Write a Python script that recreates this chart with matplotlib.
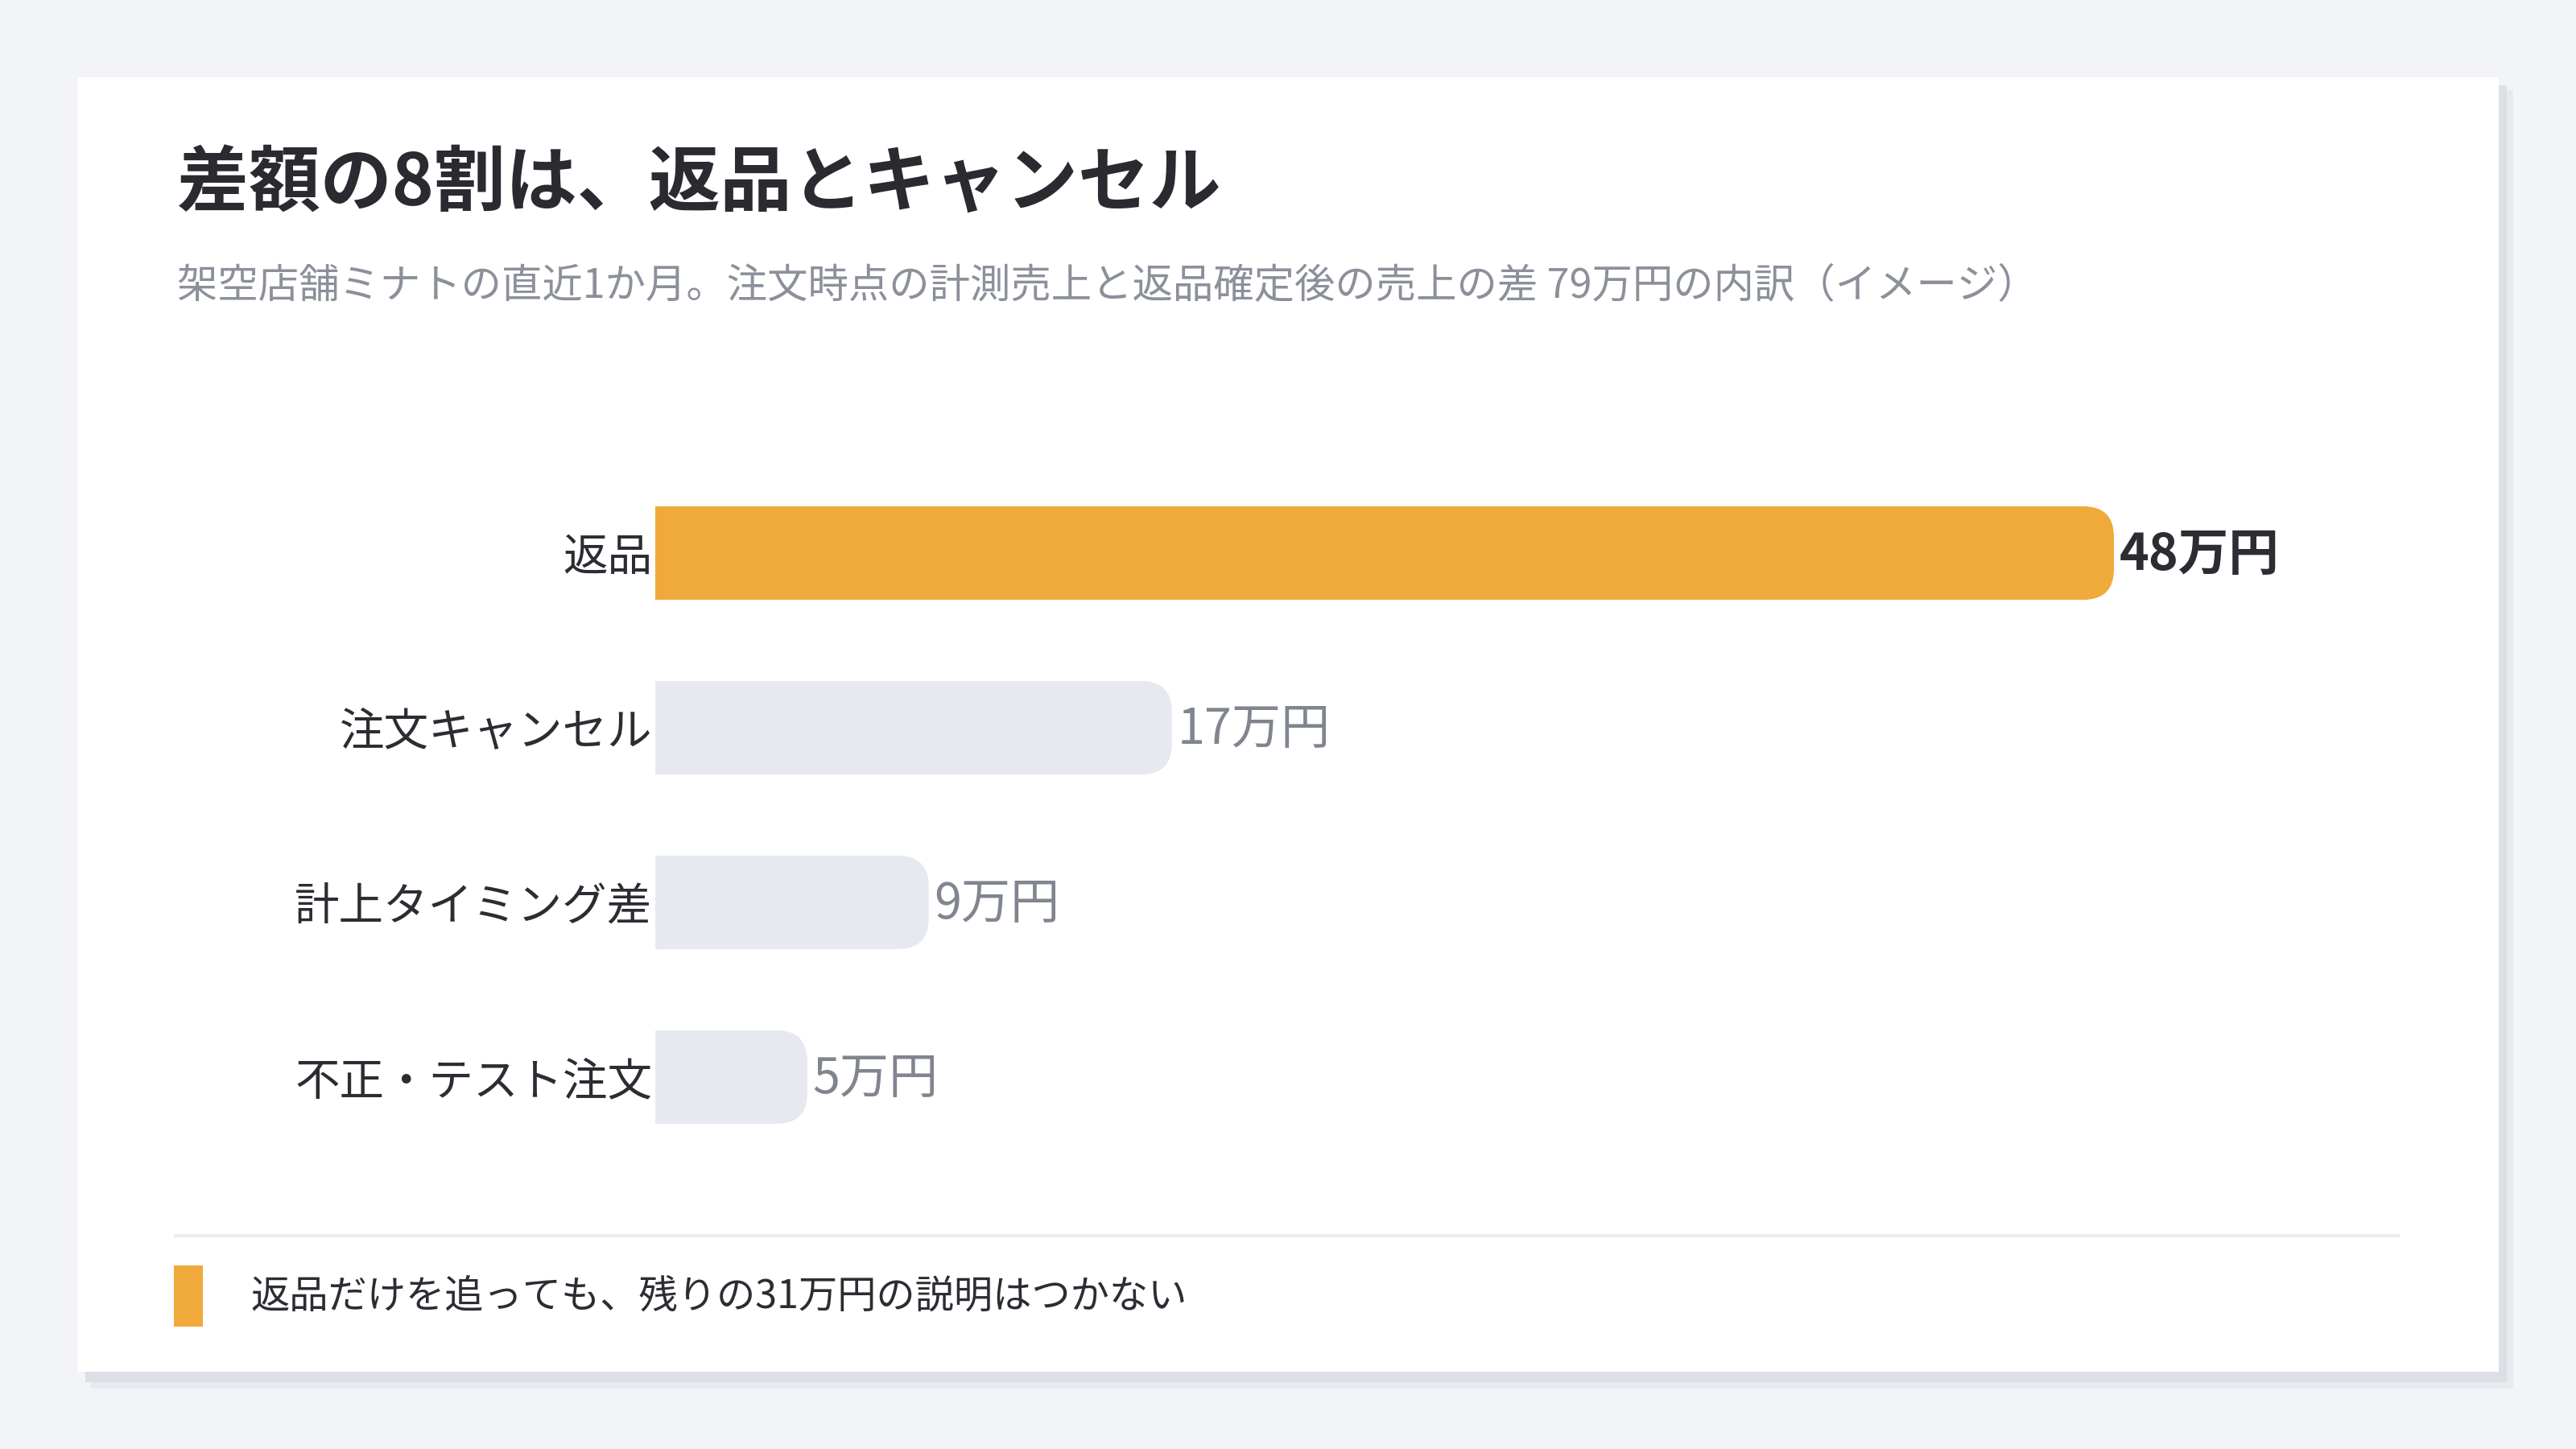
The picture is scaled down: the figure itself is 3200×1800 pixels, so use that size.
import matplotlib
matplotlib.use("Agg")
import matplotlib.pyplot as plt
from matplotlib.patches import Rectangle, FancyBboxPatch

plt.rcParams['font.family'] = ['Noto Sans CJK JP', 'DejaVu Sans']

# データ
categories = ['返品', '注文キャンセル', '計上タイミング差', '不正・テスト注文']
values = [48, 17, 9, 5]
value_labels = ['48万円', '17万円', '9万円', '5万円']
highlight = [True, False, False, False]

title = '差額の8割は、返品とキャンセル'
subtitle = '架空店舗ミナトの直近1か月。注文時点の計測売上と返品確定後の売上の差 79万円の内訳（イメージ）'
note = '返品だけを追っても、残りの31万円の説明はつかない'

ORANGE = '#F0A93B'
GRAY_BAR = '#E6E9F0'
DARK = '#2B2D33'
MUTED = '#80858F'

W, H = 3200, 1800
fig = plt.figure(figsize=(16, 9), dpi=200)
fig.patch.set_facecolor('#F3F4F8')

# 背景とカード (ピクセル座標)
bg = fig.add_axes([0, 0, 1, 1], zorder=0)
bg.set_xlim(0, W)
bg.set_ylim(H, 0)
bg.axis('off')
bg.add_patch(Rectangle((112, 112), 3010, 1613, facecolor='#E8EAEE', edgecolor='none'))
bg.add_patch(Rectangle((106, 106), 3008, 1611, facecolor='#DCDFE5', edgecolor='none'))
bg.add_patch(Rectangle((96, 96), 3008, 1608, facecolor='white', edgecolor='none'))

bg.text(220, 230, title, fontsize=32, fontweight='bold', color='#2A2B30', va='center', ha='left')
bg.text(220, 356, subtitle, fontsize=18.15, color='#8B909A', va='center', ha='left')

bg.plot([216, 2981], [1535, 1535], color='#E9ECF1', linewidth=1.5, solid_capstyle='butt')
bg.add_patch(Rectangle((216, 1572), 36, 76, facecolor=ORANGE, edgecolor='none'))
bg.text(311, 1611, note, fontsize=17.4, color=DARK, va='center', ha='left')

# 棒グラフ
ax_l, ax_r = 814, 2626
ax_t, ax_b = 578.5, 1446.5
ax = fig.add_axes([ax_l / W, 1 - ax_b / H, (ax_r - ax_l) / W, (ax_b - ax_t) / H], zorder=1)
ax.patch.set_alpha(0)
ax.set_xlim(0, max(values))
ax.set_ylim(len(values) - 0.5, -0.5)
for s in ax.spines.values():
    s.set_visible(False)
ax.set_xticks([])

bar_h = 0.535
radius_px = 38
rx = radius_px / ((ax_r - ax_l) / max(values))
ry = radius_px / ((ax_b - ax_t) / len(values))

for i, (v, hl) in enumerate(zip(values, highlight)):
    color = ORANGE if hl else GRAY_BAR
    # 左端は軸でクリップして角を落とさない
    p = FancyBboxPatch((-rx, i - bar_h / 2), v + rx, bar_h,
                       boxstyle=f'round,pad=0,rounding_size={rx}',
                       mutation_aspect=ry / rx,
                       facecolor=color, edgecolor='none')
    ax.add_patch(p)
    ax.annotate(value_labels[i], (v, i), xytext=(2.5, -1), textcoords='offset points',
                va='center', ha='left', fontsize=22.5 if hl else 22,
                fontweight='bold' if hl else 'normal',
                color=DARK if hl else MUTED, annotation_clip=False)

ax.set_yticks(range(len(categories)), labels=categories)
ax.tick_params(axis='y', length=0, pad=1.4, labelsize=20, labelcolor=DARK)

fig.savefig('out.png', dpi=200, facecolor=fig.get_facecolor())
